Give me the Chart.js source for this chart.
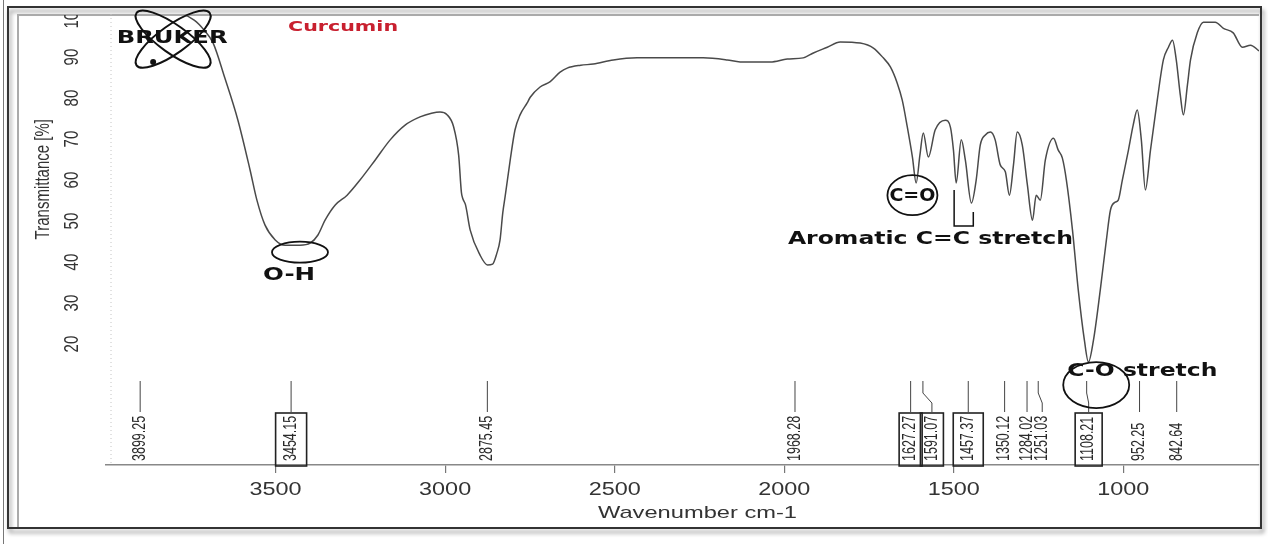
<!DOCTYPE html>
<html>
<head>
<meta charset="utf-8">
<title>Curcumin FTIR</title>
<script src="https://cdn.jsdelivr.net/npm/chart.js@4.4.1/dist/chart.umd.min.js"></script>
<style>
  html, body { margin: 0; padding: 0; background: #fff; }
  #wrap { width: 1268px; height: 544px; }
</style>
</head>
<body>
<div id="wrap"><canvas id="ir" width="1268" height="544"></canvas></div>
<script>
// FTIR spectrum of curcumin (Bruker), transmittance vs wavenumber
const wavenumbers = [
  4000, 3800, 3740, 3710, 3684, 3650, 3611, 3575, 3555, 3531, 3501, 3472, 3428, 3398, 3375,
  3354, 3324, 3289, 3251, 3206, 3162, 3118, 3074, 3040, 3015, 2995, 2975, 2960, 2952, 2948,
  2940, 2926, 2897, 2875, 2860, 2848, 2838, 2830, 2823, 2808, 2794, 2779, 2758, 2749, 2720,
  2690, 2661, 2640, 2600, 2563, 2504, 2434, 2300, 2239, 2168, 2130, 2041, 1991, 1944, 1914,
  1873, 1835, 1776, 1737, 1708, 1687, 1667, 1652, 1637, 1622, 1611, 1600, 1590, 1575, 1555,
  1525, 1510, 1501, 1493, 1478, 1466, 1448, 1434, 1422, 1407, 1392, 1378, 1363, 1348, 1336,
  1324, 1313, 1298, 1283, 1268, 1257, 1245, 1230, 1206, 1192, 1180, 1168, 1150, 1133, 1115,
  1103, 1088, 1068, 1050, 1038, 1024, 1015, 1003, 985, 971, 959, 947, 935, 920, 900,
  882, 867, 855, 844, 832, 823, 811, 802, 782, 764, 729, 705, 676, 649, 625, 600
];
const transmittance = [
  101.5, 101, 99, 96.5, 93.4, 85, 74.6, 62.4, 55.1, 49, 45.4, 44.1, 44.1, 44.6, 46.6,
  50.2, 53.9, 56.3, 60, 64.9, 69.8, 73.4, 75.4, 76.3, 76.6, 76, 73, 66, 57, 55.5,
  54, 47.8, 41.7, 39.3, 39.5, 42, 45.4, 52, 56, 64.9, 72.2, 75.9, 78.8, 80.2, 82.7,
  84, 86.3, 87.3, 88, 88.3, 89.3, 89.8, 89.8, 89.8, 89.3, 88.8, 88.8, 89.5, 89.8, 91,
  92.4, 93.7, 93.4, 92.2, 89.8, 87.6, 83.7, 79.5, 72.9, 65.6, 59.3, 66, 71.5, 65.6, 72.2,
  74.6, 72.9, 67.3, 59.3, 69.8, 64.9, 54.4, 60, 68.5, 71, 71.7, 69.8, 63.7, 62, 56.3,
  63.7, 71.7, 68.5, 58.8, 50.2, 56.3, 55.1, 64.9, 70.2, 67.3, 65.4, 60, 47.8, 33.2, 21,
  15.6, 21, 33.2, 45.4, 52.7, 54.6, 55.1, 60, 67.3, 73.4, 77.1, 69.8, 57.6, 67.3, 79.5,
  89.3, 92.4, 94.1, 89.3, 80.7, 75.9, 83.2, 89.3, 95.9, 98.5, 98.5, 97, 95.9, 92.4, 92.9, 91.5
];
const xTickLabels = [3500, 3000, 2500, 2000, 1500, 1000];
const yTickLabels = [20, 30, 40, 50, 60, 70, 80, 90, 100];
const peakLabels = ['3899.25', '3454.15', '2875.45', '1968.28', '1627.27', '1591.07',
  '1457.37', '1350.12', '1284.02', '1251.03', '1108.21', '952.25', '842.64'];
const boxedPeaks = ['3454.15', '1627.27', '1591.07', '1457.37', '1108.21'];

// label placement tweaks (pixels)
const labelNudge = { '1591.07': 9, '1251.03': 4, '1108.21': 2 };
const boxWidth = { '3454.15': 31, '1627.27': 23, '1591.07': 23, '1457.37': 30, '1108.21': 27 };

// annotations anchored in data units
const notes = [
  { text: 'Curcumin', wn: 3301, t: 97.3, font: 'bold 14px "DejaVu Sans"', w: 110, color: '#c8202f' },
  { text: 'BRUKER', wn: 3805, t: 94.6, font: 'bold 17px "DejaVu Sans"', w: 111, color: '#111' },
  { text: 'O-H', wn: 3460, t: 36.8, font: 'bold 18px "DejaVu Sans"', w: 52, color: '#111' },
  { text: 'C=O', wn: 1622, t: 56.1, font: 'bold 18px "DejaVu Sans"', w: 46, color: '#111' },
  { text: 'Aromatic C=C stretch', wn: 1569, t: 45.4, font: 'bold 17px "DejaVu Sans"', w: 285, color: '#111' },
  { text: 'C-O stretch', wn: 944, t: 13.4, font: 'bold 17px "DejaVu Sans"', w: 150, color: '#111' }
];
const rings = [
  { wn: 3428, t: 42.4, rx: 28, ry: 10.5 },
  { wn: 1622, t: 56.3, rx: 25, ry: 20 },
  { wn: 1080, t: 10.0, rx: 33, ry: 23 }
];

// horizontal text; width fixes the drawn width, otherwise sx stretches it
function hText(ctx, text, x, y, font, width, color, sx) {
  ctx.save();
  ctx.font = font;
  const k = width ? width / ctx.measureText(text).width : (sx || 1);
  ctx.translate(x, y);
  ctx.scale(k, 1);
  ctx.fillStyle = color;
  ctx.textAlign = 'center';
  ctx.textBaseline = 'middle';
  ctx.fillText(text, 0, 0);
  ctx.restore();
}

function vText(ctx, text, x, y, font, sx, align, color) {
  ctx.save();
  ctx.translate(x, y);
  ctx.scale(sx, 1);
  ctx.rotate(-Math.PI / 2);
  ctx.font = font;
  ctx.fillStyle = color;
  ctx.textAlign = align;
  ctx.textBaseline = 'middle';
  ctx.fillText(text, 0, 0);
  ctx.restore();
}

const decor = {
  id: 'decor',
  afterDraw(chart) {
    const { ctx, chartArea: a, scales: { x, y } } = chart;

    // picture frame
    ctx.save();
    ctx.strokeStyle = '#777';
    ctx.lineWidth = 1;
    ctx.beginPath(); ctx.moveTo(3.5, 0); ctx.lineTo(3.5, 544); ctx.stroke();
    ctx.shadowColor = 'rgba(0,0,0,0.45)';
    ctx.shadowBlur = 4; ctx.shadowOffsetX = 2; ctx.shadowOffsetY = 4;
    ctx.strokeStyle = '#333';
    ctx.lineWidth = 2;
    ctx.strokeRect(8, 7, 1253, 521);
    ctx.restore();
    ctx.save();
    ctx.strokeStyle = '#aaa';
    ctx.lineWidth = 2;
    ctx.beginPath();
    ctx.moveTo(18, 527); ctx.lineTo(18, 15); ctx.lineTo(1259, 15);
    ctx.stroke();
    ctx.restore();

    // y axis: faint dotted line, inward ticks, rotated labels
    ctx.save();
    ctx.strokeStyle = '#c4c4c4';
    ctx.setLineDash([1, 3]);
    ctx.beginPath(); ctx.moveTo(a.left + 5, a.top); ctx.lineTo(a.left + 5, a.bottom); ctx.stroke();
    ctx.setLineDash([]);
    ctx.strokeStyle = '#999';
    ctx.lineWidth = 1.2;
    ctx.beginPath(); ctx.rect(0, 15, a.left, a.bottom); ctx.clip();
    yTickLabels.forEach(v => {
      const py = y.getPixelForValue(v);
      ctx.beginPath(); ctx.moveTo(a.left, py); ctx.lineTo(a.left + 8, py); ctx.stroke();
      vText(ctx, String(v), a.left - 33, py, '15px "Liberation Sans", Arial, sans-serif', 1.3, 'center', '#333');
    });
    ctx.restore();
    vText(ctx, 'Transmittance [%]', a.left - 63, y.getPixelForValue(60.2), '15px "Liberation Sans", Arial, sans-serif', 1.4, 'center', '#333');

    // x axis labels and title
    xTickLabels.forEach(v => {
      hText(ctx, String(v), x.getPixelForValue(v), a.bottom + 25, '18px "Liberation Sans", Arial, sans-serif', 0, '#333', 1.3);
    });
    hText(ctx, 'Wavenumber cm-1', (a.left + a.right) / 2 + 15, a.bottom + 48, '17px "Liberation Sans", Arial, sans-serif', 199, '#333');

    // peak markers
    ctx.save();
    ctx.strokeStyle = '#444';
    ctx.lineWidth = 1;
    peakLabels.forEach(lbl => {
      const px = x.getPixelForValue(Number(lbl));
      const lx = px + (labelNudge[lbl] || 0);
      ctx.beginPath();
      ctx.moveTo(px, a.bottom - 84);
      if (lx !== px) {
        ctx.lineTo(px, a.bottom - 72);
        ctx.lineTo(lx, a.bottom - 62);
      }
      ctx.lineTo(lx, a.bottom - 53);
      ctx.stroke();
      vText(ctx, lbl, lx, a.bottom - 4, '12.5px "Liberation Sans", Arial, sans-serif', 1.4, 'left', '#2a2a2a');
      if (boxedPeaks.includes(lbl)) {
        const bw = boxWidth[lbl];
        ctx.lineWidth = 1.6;
        ctx.strokeStyle = '#222';
        ctx.strokeRect(lx - bw / 2, a.bottom - 52, bw, 53);
        ctx.lineWidth = 1;
        ctx.strokeStyle = '#444';
      }
    });
    ctx.restore();

    // Bruker logo orbits
    const lx0 = x.getPixelForValue(3805), ly0 = y.getPixelForValue(94.6);
    ctx.save();
    ctx.strokeStyle = '#111';
    ctx.lineWidth = 2;
    [0.62, -0.62].forEach(r => {
      ctx.beginPath(); ctx.ellipse(lx0 + 1, ly0 + 1, 45, 14, r, 0, Math.PI * 2); ctx.stroke();
    });
    ctx.fillStyle = '#111';
    ctx.beginPath(); ctx.arc(x.getPixelForValue(3861), y.getPixelForValue(88.8), 3, 0, Math.PI * 2); ctx.fill();
    ctx.restore();

    // circled groups
    ctx.save();
    ctx.strokeStyle = '#111';
    ctx.lineWidth = 1.8;
    rings.forEach(r => {
      ctx.beginPath();
      ctx.ellipse(x.getPixelForValue(r.wn), y.getPixelForValue(r.t), r.rx, r.ry, 0, 0, Math.PI * 2);
      ctx.stroke();
    });
    // aromatic bracket
    ctx.lineWidth = 1.5;
    ctx.beginPath();
    ctx.moveTo(x.getPixelForValue(1499), y.getPixelForValue(57.6));
    ctx.lineTo(x.getPixelForValue(1499), y.getPixelForValue(48.8));
    ctx.lineTo(x.getPixelForValue(1442.5), y.getPixelForValue(48.8));
    ctx.lineTo(x.getPixelForValue(1442.5), y.getPixelForValue(52.2));
    ctx.stroke();
    ctx.restore();

    notes.forEach(n => {
      hText(ctx, n.text, x.getPixelForValue(n.wn), y.getPixelForValue(n.t), n.font, n.w, n.color);
    });
  }
};

new Chart(document.getElementById('ir'), {
  type: 'line',
  data: {
    datasets: [{
      data: wavenumbers.map((w, i) => ({ x: w, y: transmittance[i] })),
      borderColor: '#4a4a4a',
      borderWidth: 1.5,
      pointRadius: 0,
      fill: false,
      cubicInterpolationMode: 'monotone'
    }]
  },
  options: {
    responsive: false,
    animation: false,
    devicePixelRatio: 1,
    layout: { padding: { left: 0, right: 9, top: 14, bottom: 0 } },
    plugins: { legend: { display: false }, tooltip: { enabled: false } },
    scales: {
      x: {
        type: 'linear',
        reverse: true,
        min: 600,
        max: 4000,
        afterBuildTicks: s => { s.ticks = xTickLabels.map(v => ({ value: v })); },
        afterFit: s => { s.height = 79; },
        ticks: { display: false },
        grid: { drawOnChartArea: false, drawTicks: true, tickLength: 8, color: '#777', lineWidth: 1.2 },
        border: { color: '#888', width: 1.5 }
      },
      y: {
        min: -9.5,
        max: 100.5,
        afterFit: s => { s.width = 106; },
        ticks: { display: false },
        grid: { display: false },
        border: { display: false }
      }
    }
  },
  plugins: [decor]
});
</script>
</body>
</html>
